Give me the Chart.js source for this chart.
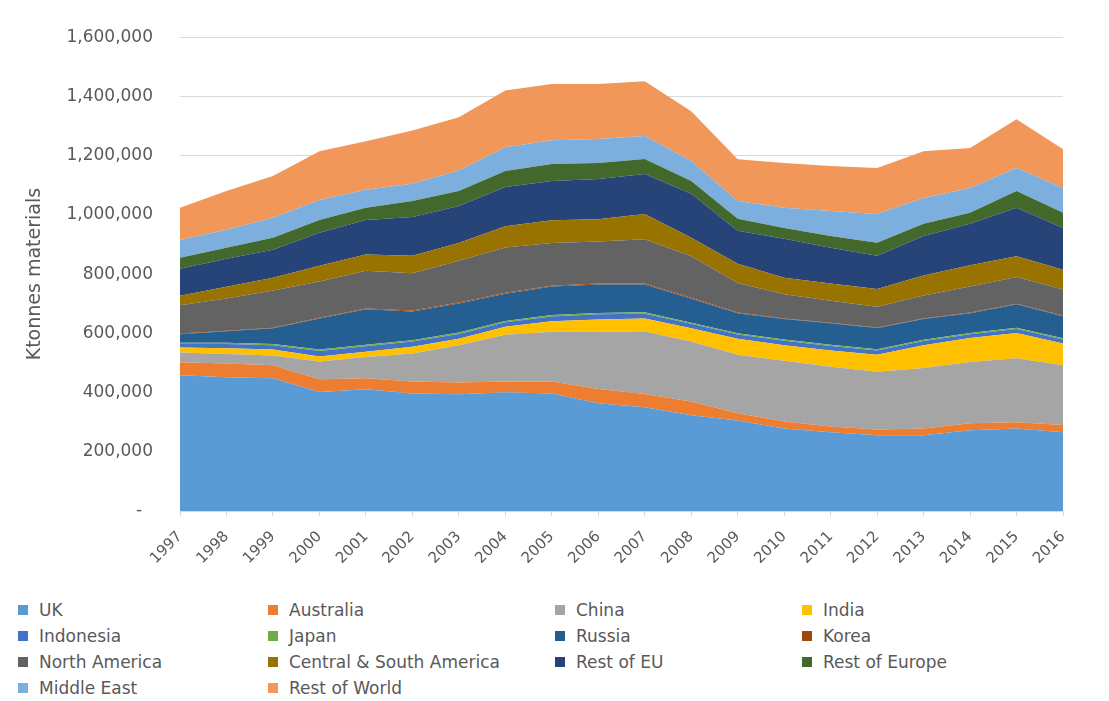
<!DOCTYPE html>
<html>
<head>
<meta charset="utf-8">
<script src="https://cdn.jsdelivr.net/npm/chart.js@4.4.1/dist/chart.umd.min.js"></script>
<style>
  body { margin: 0; background: #fff; font-family: 'DejaVu Sans', sans-serif; }
  #wrap { position: relative; width: 1109px; height: 701px; }
  #chart { position: absolute; left: 0; top: 0; }
  #legend {
    position: absolute; left: 18px; top: 597px;
    display: grid; grid-template-columns: 250px 287px 247px 260px; grid-auto-rows: 26px;
  }
  .item { display: flex; align-items: center; color: #595959; font-size: 17px; white-space: nowrap; }
  .sw { width: 10px; height: 10px; margin-right: 11px; flex: none; }
</style>
</head>
<body>
<div id="wrap">
  <canvas id="chart" width="1109" height="590"></canvas>
  <div id="legend"></div>
</div>
<script>
const years = ['1997', '1998', '1999', '2000', '2001', '2002', '2003', '2004', '2005', '2006',
  '2007', '2008', '2009', '2010', '2011', '2012', '2013', '2014', '2015', '2016'];

// ktonnes of materials, by region
const uk = [458000, 452000, 448000, 402000, 411000, 397000, 394000, 401000, 397000, 364000,
  350000, 323000, 306000, 279000, 266000, 256000, 256000, 273000, 279000, 266000];
const australia = [44000, 46000, 44000, 43000, 37000, 40000, 40000, 36000, 40000, 48000,
  45000, 47000, 24000, 23000, 19000, 19000, 23000, 23000, 21000, 24000];
const china = [33000, 32000, 33000, 60000, 72000, 95000, 126000, 158000, 168000, 193000,
  211000, 202000, 198000, 205000, 202000, 195000, 204000, 207000, 216000, 202000];
const india = [17000, 20000, 20000, 17000, 18000, 23000, 22000, 27000, 36000, 42000,
  44000, 45000, 54000, 53000, 55000, 58000, 77000, 81000, 85000, 74000];
const indonesia = [12000, 14000, 15000, 18000, 18000, 17000, 16000, 15000, 16000, 17000,
  16000, 15000, 14000, 15000, 15000, 14000, 14000, 13000, 14000, 13000];
const japan = [4000, 4000, 4000, 5000, 5000, 5000, 5000, 5000, 5000, 5000,
  5000, 4000, 4000, 4000, 4000, 4000, 4000, 4000, 4000, 4000];
const russia = [29000, 39000, 53000, 105000, 120000, 97000, 98000, 92000, 96000, 96000,
  94000, 81000, 68000, 69000, 73000, 72000, 70000, 67000, 79000, 75000];
const korea = [2000, 2000, 2000, 3000, 3000, 3000, 3000, 3000, 3000, 3000,
  3000, 3000, 2000, 2000, 2000, 2000, 2000, 2000, 2000, 2000];
const northAmerica = [96000, 109000, 126000, 122000, 127000, 126000, 141000, 153000, 144000, 142000,
  150000, 140000, 100000, 82000, 74000, 70000, 78000, 88000, 90000, 88000];
const centralSouthAmerica = [32000, 39000, 43000, 53000, 55000, 59000, 60000, 72000, 77000, 75000,
  85000, 63000, 65000, 56000, 58000, 60000, 67000, 72000, 70000, 67000];
const restOfEU = [91000, 95000, 94000, 112000, 117000, 131000, 125000, 132000, 132000, 136000,
  135000, 148000, 111000, 131000, 121000, 112000, 134000, 140000, 164000, 141000];
const restOfEurope = [37000, 37000, 41000, 43000, 41000, 54000, 51000, 54000, 58000, 54000,
  51000, 43000, 41000, 37000, 40000, 44000, 41000, 37000, 57000, 51000];
const middleEast = [60000, 61000, 67000, 67000, 61000, 58000, 69000, 80000, 80000, 81000,
  77000, 68000, 60000, 68000, 84000, 97000, 87000, 84000, 77000, 84000];
const restOfWorld = [109000, 131000, 141000, 165000, 164000, 180000, 180000, 192000, 190000, 186000,
  185000, 168000, 141000, 151000, 152000, 155000, 158000, 135000, 165000, 131000];

const seriesNames = ['UK', 'Australia', 'China', 'India', 'Indonesia', 'Japan', 'Russia', 'Korea',
  'North America', 'Central & South America', 'Rest of EU', 'Rest of Europe', 'Middle East', 'Rest of World'];
const seriesData = [uk, australia, china, india, indonesia, japan, russia, korea,
  northAmerica, centralSouthAmerica, restOfEU, restOfEurope, middleEast, restOfWorld];
const seriesColors = ['#5b9bd5', '#ed7d31', '#a5a5a5', '#ffc000', '#4472c4', '#70ad47', '#255e91', '#9e480e',
  '#636363', '#997300', '#264478', '#43682b', '#7cafdd', '#f1975a'];

const yTicks = [0, 200000, 400000, 600000, 800000, 1000000, 1200000, 1400000, 1600000];

const textColor = '#595959';
const gridColor = '#d9d9d9';

const datasets = seriesNames.map((name, i) => ({
  label: name,
  data: seriesData[i],
  backgroundColor: seriesColors[i],
  borderColor: seriesColors[i],
  borderWidth: 0,
  pointRadius: 0,
  fill: i === 0 ? 'origin' : '-1',
}));

var ctx = document.getElementById('chart').getContext('2d');
var chart = new Chart(ctx, {
  type: 'line',
  data: { labels: years, datasets: datasets },
  options: {
    responsive: false,
    animation: false,
    layout: { padding: { left: 20, top: 37, right: 46, bottom: 0 } },
    plugins: {
      legend: { display: false },
      tooltip: { enabled: false },
    },
    scales: {
      x: {
        grid: { drawOnChartArea: false, color: gridColor, tickLength: 5 },
        border: { color: gridColor },
        ticks: {
          color: textColor,
          font: { family: 'DejaVu Sans', size: 15 },
          minRotation: 45,
          maxRotation: 45,
          padding: 12,
        },
        afterFit: (s) => { s.height = 79; },
      },
      y: {
        stacked: true,
        min: yTicks[0],
        max: yTicks[yTicks.length - 1],
        afterBuildTicks: (s) => { s.ticks = yTicks.map((v) => ({ value: v })); },
        grid: { color: gridColor, drawTicks: false },
        border: { display: false },
        ticks: {
          color: textColor,
          font: { family: 'DejaVu Sans', size: 17 },
          padding: 27,
          callback: (v) => (v === 0 ? '-  ' : v.toLocaleString('en-US')),
        },
        title: {
          display: true,
          text: 'Ktonnes materials',
          color: textColor,
          font: { family: 'DejaVu Sans', size: 19 },
        },
        afterFit: (s) => { s.width = 160; },
      },
    },
  },
});

// legend grid, four columns
const legendEl = document.getElementById('legend');
chart.data.datasets.forEach((ds) => {
  const item = document.createElement('div');
  item.className = 'item';
  const sw = document.createElement('span');
  sw.className = 'sw';
  sw.style.background = ds.backgroundColor;
  item.appendChild(sw);
  item.appendChild(document.createTextNode(ds.label));
  legendEl.appendChild(item);
});
</script>
</body>
</html>
